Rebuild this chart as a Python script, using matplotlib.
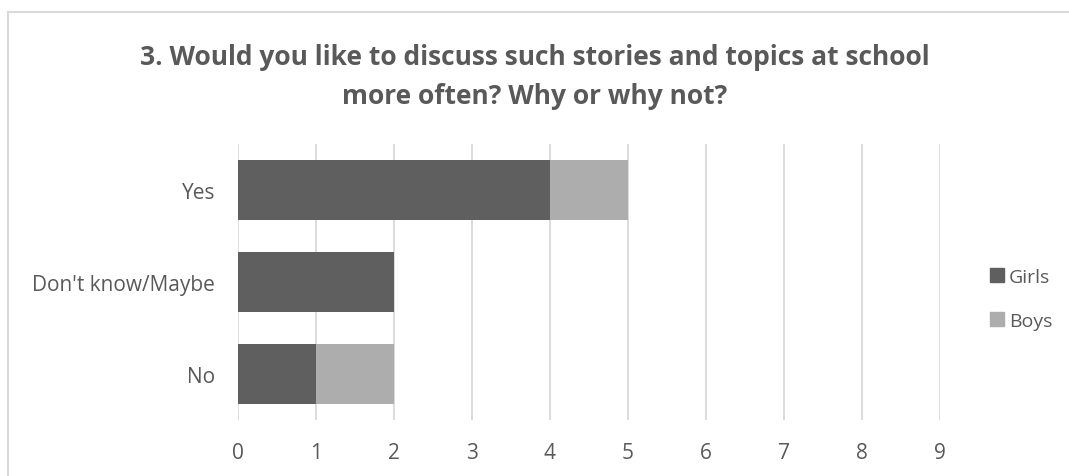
import matplotlib as mpl
import matplotlib.pyplot as plt
from matplotlib.lines import Line2D

mpl.rcParams.update({
    "font.family": ["Open Sans", "DejaVu Sans"],
    "text.color": "#595959",
    "xtick.color": "#595959",
    "ytick.color": "#595959",
})

categories = ["Yes", "Don't know/Maybe", "No"]
girls = [4, 2, 1]
boys = [1, 0, 1]
x_ticks = [0, 1, 2, 3, 4, 5, 6, 7, 8, 9]
title = "3. Would you like to discuss such stories and topics at school\nmore often? Why or why not?"

GIRLS_C = "#5f5f5f"
BOYS_C = "#adadad"

fig = plt.figure(figsize=(10.69, 4.77), dpi=100)
ax = fig.add_axes([238 / 1069, 1 - 421 / 477, 702 / 1069, 276 / 477])

pos = list(range(len(categories)))
ax.barh(pos, girls, height=0.645, color=GIRLS_C, zorder=3)
ax.barh(pos, boys, left=girls, height=0.645, color=BOYS_C, zorder=3)

ax.set_xlim(0, 9)
ax.set_ylim(len(categories) - 0.5, -0.5)
ax.set_xticks(x_ticks)
ax.set_yticks(pos)
ax.set_yticklabels(categories)
ax.grid(axis="x", color="#d9d9d9", lw=1.3, zorder=0)
ax.tick_params(axis="both", length=0, labelsize=15)
ax.tick_params(axis="x", pad=16)
ax.tick_params(axis="y", pad=16.5)
for s in ax.spines.values():
    s.set_visible(False)

fig.text(0.5, 1 - 77 / 477, title, ha="center", va="center",
         fontsize=19, fontweight="bold", linespacing=1.6)

handles = [Line2D([], [], marker="s", ls="none", color=GIRLS_C, markersize=10),
           Line2D([], [], marker="s", ls="none", color=BOYS_C, markersize=10)]
fig.legend(handles, ["Girls", "Boys"], loc="center left",
           bbox_to_anchor=(970 / 1069, 1 - 300 / 477), frameon=False,
           fontsize=14, handletextpad=0.1, labelspacing=1.35, handlelength=1.0)

# chart frame (only top and left visible in the crop)
fig.add_artist(Line2D([8 / 1069, 1], [1 - 13 / 477] * 2, color="#d9d9d9", lw=1.5))
fig.add_artist(Line2D([8 / 1069] * 2, [0, 1 - 13 / 477], color="#d9d9d9", lw=1.5))

fig.savefig("out.png", dpi=100)
